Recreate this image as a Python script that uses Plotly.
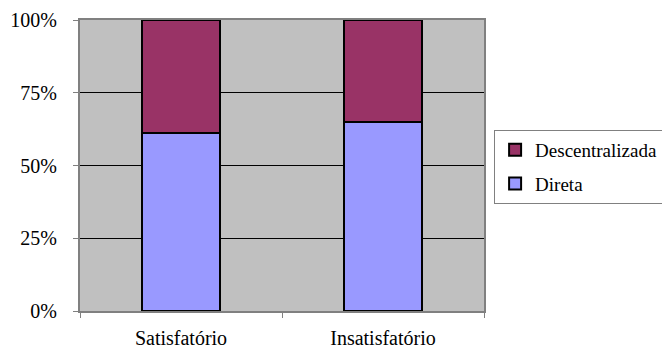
import plotly.graph_objects as go

categorias = ['Satisfatório', 'Insatisfatório']
direta = [61, 65]
descentralizada = [39, 35]

fig = go.Figure()

# barras empilhadas (100%)
fig.add_trace(go.Bar(x=categorias, y=direta, name='Direta', legendgroup='a', legendrank=2,
                     marker=dict(color='#9999FF', line=dict(color='black', width=2)),
                     width=0.385))
fig.add_trace(go.Bar(x=categorias, y=descentralizada, name='Descentralizada', legendgroup='b',
                     legendrank=1,
                     marker=dict(color='#993366', line=dict(color='black', width=2)),
                     width=0.385))

# a pagina tem margem de 8px, por isso l/t menores
fig.update_layout(
    barmode='stack',
    width=670, height=349,
    margin=dict(l=72, r=194, t=12, b=46, autoexpand=False),
    plot_bgcolor='#C0C0C0',
    paper_bgcolor='white',
    font=dict(family='Liberation Serif, Times New Roman, serif', size=20, color='black'),
    legend=dict(x=1.025, y=0.622, xanchor='left', yanchor='top',
                bordercolor='#808080', borderwidth=1, tracegroupgap=6,
                traceorder='grouped',
                font=dict(family='Liberation Serif, Times New Roman, serif', size=19)),
)

fig.update_yaxes(range=[0, 100], tickvals=[0, 25, 50, 75, 100],
                 ticktext=['0%', '25%', '50%', '75%', '100%'],
                 showgrid=True, gridcolor='black', gridwidth=1,
                 showline=True, linecolor='#808080', linewidth=2, mirror=True,
                 ticks='outside', ticklen=5, tickcolor='#808080',
                 ticklabelstandoff=12, zeroline=False, automargin=False)
fig.update_xaxes(range=[-0.5, 1.5], showline=True, linecolor='#808080', linewidth=2,
                 mirror=True, ticks='outside', ticklen=5, tickcolor='#808080',
                 tickson='boundaries', ticklabelstandoff=8, automargin=False)

fig.write_html("out.html")
